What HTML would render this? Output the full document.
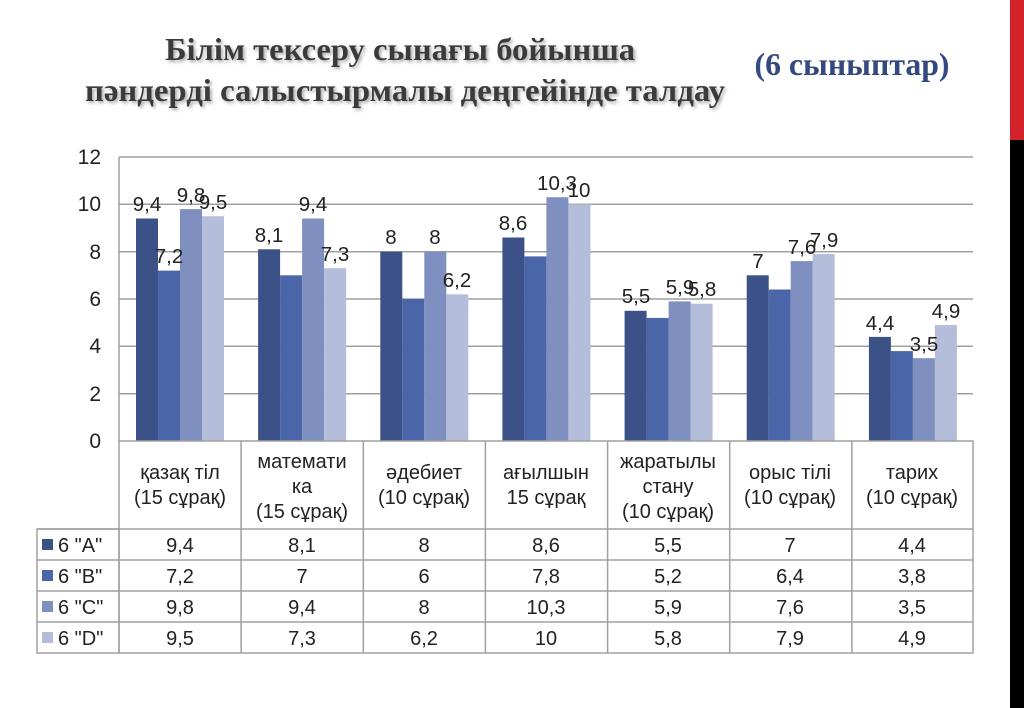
<!DOCTYPE html><html><head><meta charset="utf-8"><style>body{margin:0;background:#fff}svg{display:block}</style></head><body>
<svg width="1024" height="708" xmlns="http://www.w3.org/2000/svg" font-family="Liberation Sans, sans-serif">
<defs><filter id="sh"><feDropShadow dx="2" dy="2" stdDeviation="1.5" flood-color="#888" flood-opacity="0.7"/></filter></defs>
<rect x="1010" y="0" width="14" height="140" fill="#d2232a"/><rect x="1010" y="140" width="14" height="568" fill="#000"/>
<g font-family="Liberation Serif, serif" font-weight="bold" font-size="32" fill="#3a3a3a" text-anchor="middle" filter="url(#sh)">
<text x="400" y="60" textLength="470" lengthAdjust="spacingAndGlyphs">Білім тексеру сынағы бойынша</text>
<text x="405" y="101" textLength="640" lengthAdjust="spacingAndGlyphs">пәндерді салыстырмалы деңгейінде талдау</text></g>
<text x="852" y="75" font-family="Liberation Serif, serif" font-weight="bold" font-size="32" fill="#34497f" text-anchor="middle" textLength="195" lengthAdjust="spacingAndGlyphs">(6 сыныптар)</text>
<g stroke="#a0a0a0" stroke-width="1.5">
<line x1="119" y1="157" x2="973" y2="157"/><line x1="119" y1="204.3" x2="973" y2="204.3"/><line x1="119" y1="251.7" x2="973" y2="251.7"/><line x1="119" y1="299" x2="973" y2="299"/><line x1="119" y1="346.3" x2="973" y2="346.3"/><line x1="119" y1="393.7" x2="973" y2="393.7"/>
<line x1="119" y1="157" x2="119" y2="441"/></g>
<g font-size="21" fill="#222" text-anchor="end">
<text x="101" y="164">12</text><text x="101" y="211">10</text><text x="101" y="259">8</text><text x="101" y="306">6</text><text x="101" y="353">4</text><text x="101" y="401">2</text><text x="101" y="448">0</text></g>
<g>
<rect x="136" y="218.5" width="22" height="222.5" fill="#3d5189"/><rect x="158" y="270.6" width="22" height="170.4" fill="#4a66a8"/><rect x="180" y="209.1" width="22" height="231.9" fill="#7f8fc0"/><rect x="202" y="216.2" width="22" height="224.8" fill="#b4bdd9"/>
<rect x="258.1" y="249.3" width="22" height="191.7" fill="#3d5189"/><rect x="280.1" y="275.3" width="22" height="165.7" fill="#4a66a8"/><rect x="302.1" y="218.5" width="22" height="222.5" fill="#7f8fc0"/><rect x="324.1" y="268.2" width="22" height="172.8" fill="#b4bdd9"/>
<rect x="380.3" y="251.7" width="22" height="189.3" fill="#3d5189"/><rect x="402.3" y="299" width="22" height="142" fill="#4a66a8"/><rect x="424.3" y="251.7" width="22" height="189.3" fill="#7f8fc0"/><rect x="446.3" y="294.3" width="22" height="146.7" fill="#b4bdd9"/>
<rect x="502.4" y="237.5" width="22" height="203.5" fill="#3d5189"/><rect x="524.4" y="256.4" width="22" height="184.6" fill="#4a66a8"/><rect x="546.4" y="197.2" width="22" height="243.8" fill="#7f8fc0"/><rect x="568.4" y="204.3" width="22" height="236.7" fill="#b4bdd9"/>
<rect x="624.6" y="310.8" width="22" height="130.2" fill="#3d5189"/><rect x="646.6" y="317.9" width="22" height="123.1" fill="#4a66a8"/><rect x="668.6" y="301.4" width="22" height="139.6" fill="#7f8fc0"/><rect x="690.6" y="303.7" width="22" height="137.3" fill="#b4bdd9"/>
<rect x="746.7" y="275.3" width="22" height="165.7" fill="#3d5189"/><rect x="768.7" y="289.5" width="22" height="151.5" fill="#4a66a8"/><rect x="790.7" y="261.1" width="22" height="179.9" fill="#7f8fc0"/><rect x="812.7" y="254" width="22" height="187" fill="#b4bdd9"/>
<rect x="868.9" y="336.9" width="22" height="104.1" fill="#3d5189"/><rect x="890.9" y="351.1" width="22" height="89.9" fill="#4a66a8"/><rect x="912.9" y="358.2" width="22" height="82.8" fill="#7f8fc0"/><rect x="934.9" y="325" width="22" height="116" fill="#b4bdd9"/>
</g>
<g font-size="20.5" fill="#222" text-anchor="middle">
<text x="147" y="211">9,4</text><text x="169" y="263">7,2</text><text x="191" y="202">9,8</text><text x="213" y="209">9,5</text>
<text x="269" y="242">8,1</text><text x="313" y="211">9,4</text><text x="335" y="261">7,3</text>
<text x="391" y="244">8</text><text x="435" y="244">8</text><text x="457" y="287">6,2</text>
<text x="513" y="230">8,6</text><text x="557" y="190">10,3</text><text x="579" y="197">10</text>
<text x="636" y="303">5,5</text><text x="680" y="294">5,9</text><text x="702" y="296">5,8</text>
<text x="758" y="268">7</text><text x="802" y="254">7,6</text><text x="824" y="247">7,9</text>
<text x="880" y="330">4,4</text><text x="924" y="351">3,5</text><text x="946" y="318">4,9</text>
</g>
<g stroke="#a0a0a0" stroke-width="1.5" fill="none">
<rect x="119" y="441" width="854" height="212"/><rect x="37" y="529" width="82" height="124"/>
<line x1="37" y1="560" x2="973" y2="560"/><line x1="37" y1="591" x2="973" y2="591"/><line x1="37" y1="622" x2="973" y2="622"/><line x1="37" y1="529" x2="973" y2="529"/>
<line x1="241.1" y1="441" x2="241.1" y2="653"/><line x1="363.3" y1="441" x2="363.3" y2="653"/><line x1="485.4" y1="441" x2="485.4" y2="653"/><line x1="607.6" y1="441" x2="607.6" y2="653"/><line x1="729.7" y1="441" x2="729.7" y2="653"/><line x1="851.9" y1="441" x2="851.9" y2="653"/>
</g>
<g font-size="20" fill="#222" text-anchor="middle">
<text x="180" y="479">қазақ тіл</text><text x="180" y="504">(15 сұрақ)</text>
<text x="302" y="468">математи</text><text x="302" y="493">ка</text><text x="302" y="518">(15 сұрақ)</text>
<text x="424" y="479">әдебиет</text><text x="424" y="504">(10 сұрақ)</text>
<text x="546" y="479">ағылшын</text><text x="546" y="504">15 сұрақ</text>
<text x="668" y="468">жаратылы</text><text x="668" y="493">стану</text><text x="668" y="518">(10 сұрақ)</text>
<text x="790" y="479">орыс тілі</text><text x="790" y="504">(10 сұрақ)</text>
<text x="912" y="479">тарих</text><text x="912" y="504">(10 сұрақ)</text>
</g>
<rect x="42" y="539" width="11" height="11" fill="#3d5189"/><rect x="42" y="570" width="11" height="11" fill="#4a66a8"/><rect x="42" y="601" width="11" height="11" fill="#7f8fc0"/><rect x="42" y="632" width="11" height="11" fill="#b4bdd9"/>
<g font-size="20" fill="#222">
<text x="58" y="552">6 "A"</text><text x="58" y="583">6 "B"</text><text x="58" y="614">6 "C"</text><text x="58" y="645">6 "D"</text></g>
<g font-size="20" fill="#222" text-anchor="middle">
<text x="180" y="552">9,4</text><text x="302" y="552">8,1</text><text x="424" y="552">8</text><text x="546" y="552">8,6</text><text x="668" y="552">5,5</text><text x="790" y="552">7</text><text x="912" y="552">4,4</text>
<text x="180" y="583">7,2</text><text x="302" y="583">7</text><text x="424" y="583">6</text><text x="546" y="583">7,8</text><text x="668" y="583">5,2</text><text x="790" y="583">6,4</text><text x="912" y="583">3,8</text>
<text x="180" y="614">9,8</text><text x="302" y="614">9,4</text><text x="424" y="614">8</text><text x="546" y="614">10,3</text><text x="668" y="614">5,9</text><text x="790" y="614">7,6</text><text x="912" y="614">3,5</text>
<text x="180" y="645">9,5</text><text x="302" y="645">7,3</text><text x="424" y="645">6,2</text><text x="546" y="645">10</text><text x="668" y="645">5,8</text><text x="790" y="645">7,9</text><text x="912" y="645">4,9</text>
</g>
</svg></body></html>
